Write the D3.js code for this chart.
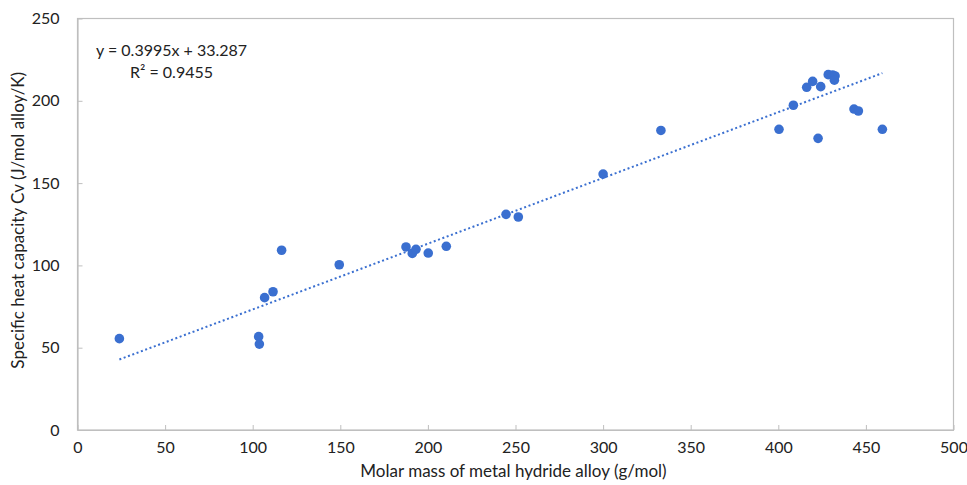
<!DOCTYPE html>
<html>
<head>
<meta charset="utf-8">
<script src="https://cdn.jsdelivr.net/npm/d3@7"></script>
<style>
  body { margin: 0; background: #fff; }
  text { font-family: Lato, "Open Sans", sans-serif; fill: #222; }
</style>
</head>
<body>
<svg id="chart" width="967" height="485"></svg>
<script>
// molar mass (g/mol) vs specific heat capacity Cv (J/mol alloy/K)
const molarMass = [23.9, 103.4, 103.8, 106.8, 111.6, 116.5, 149.4, 187.5, 191.1, 193.2, 200.2, 210.5,
  244.6, 251.6, 300.0, 333.0, 400.4, 408.6, 416.2, 419.6, 424.2, 422.7, 428.5, 431.0, 432.4, 432.0,
  443.2, 445.7, 459.4];
const heatCapacity = [55.5, 56.7, 52.2, 80.4, 84.0, 109.2, 100.4, 111.2, 107.3, 109.8, 107.5, 111.6,
  131.0, 129.4, 155.5, 182.0, 182.7, 197.3, 208.2, 211.8, 208.6, 177.2, 215.9, 215.7, 215.1, 212.5,
  195.0, 193.8, 182.7];
const xTicks = [0, 50, 100, 150, 200, 250, 300, 350, 400, 450, 500];
const yTicks = [0, 50, 100, 150, 200, 250];
const slope = 0.3995, intercept = 33.287;
const eqLines = ['y = 0.3995x + 33.287', 'R² = 0.9455'];

const svg = d3.select('#chart');
const plot = { left: 77.5, right: 953.5, top: 18.5, bottom: 430 };
const axisColor = '#bfbfbf';
const dotColor = '#3a6fd0';

const x = d3.scaleLinear().domain([0, 500]).range([plot.left, plot.right]);
const y = d3.scaleLinear().domain([0, 250]).range([plot.bottom, plot.top]);

// plot border
svg.append('rect')
  .attr('x', plot.left).attr('y', plot.top)
  .attr('width', plot.right - plot.left).attr('height', plot.bottom - plot.top)
  .attr('fill', 'none').attr('stroke', axisColor).attr('stroke-width', 1.2);

// x axis: ticks pointing up
const xAxis = svg.append('g').attr('transform', `translate(0,${plot.bottom})`)
  .call(d3.axisBottom(x).tickValues(xTicks).tickSizeInner(-5).tickSizeOuter(0).tickPadding(12));
xAxis.select('.domain').attr('stroke', axisColor).attr('stroke-width', 1.2);
xAxis.selectAll('.tick line').attr('stroke', axisColor);
xAxis.selectAll('.tick text').attr('font-size', 16).style('font-family', 'Lato, sans-serif').attr('fill', '#222');

// y axis: ticks pointing right
const yAxis = svg.append('g').attr('transform', `translate(${plot.left},0)`)
  .call(d3.axisLeft(y).tickValues(yTicks).tickSizeInner(-5).tickSizeOuter(0).tickPadding(18));
yAxis.select('.domain').attr('stroke', axisColor).attr('stroke-width', 1.2);
yAxis.selectAll('.tick line').attr('stroke', axisColor);
yAxis.selectAll('.tick text').attr('font-size', 16).style('font-family', 'Lato, sans-serif').attr('fill', '#222');

// trendline over the data range
const xExt = d3.extent(molarMass);
svg.append('line')
  .attr('x1', x(xExt[0])).attr('y1', y(slope * xExt[0] + intercept))
  .attr('x2', x(xExt[1])).attr('y2', y(slope * xExt[1] + intercept))
  .attr('stroke', dotColor).attr('stroke-width', 2)
  .attr('stroke-dasharray', '2,2.6');

// points
svg.append('g').selectAll('circle')
  .data(molarMass.map((m, i) => ({ m, c: heatCapacity[i] })))
  .join('circle')
  .attr('cx', d => x(d.m))
  .attr('cy', d => y(d.c))
  .attr('r', 4.8)
  .attr('fill', dotColor);

// equation label
svg.append('text').attr('x', 96).attr('y', 56).attr('font-size', 16).text(eqLines[0]);
svg.append('text').attr('x', 130).attr('y', 78).attr('font-size', 16).text(eqLines[1]);

// axis titles
svg.append('text')
  .attr('x', (plot.left + plot.right) / 2 - 2).attr('y', 477)
  .attr('text-anchor', 'middle').attr('font-size', 17)
  .text('Molar mass of metal hydride alloy (g/mol)');
svg.append('text')
  .attr('transform', `translate(24,${(plot.top + plot.bottom) / 2 - 4}) rotate(-90)`)
  .attr('text-anchor', 'middle').attr('font-size', 17)
  .text('Specific heat capacity Cv (J/mol alloy/K)');
</script>
</body>
</html>
